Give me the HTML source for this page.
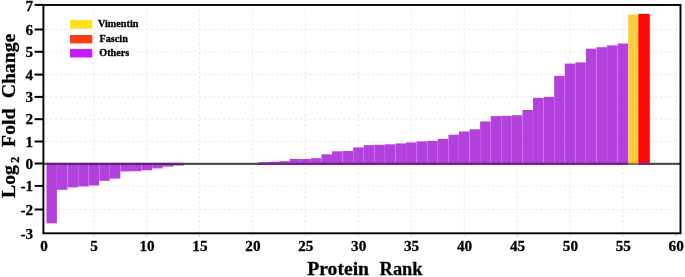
<!DOCTYPE html>
<html><head><meta charset="utf-8"><title>Protein Rank</title>
<style>html,body{margin:0;padding:0;background:#fff;overflow:hidden}body{width:685px;height:277px;position:relative}</style></head>
<body>
<svg width="685" height="277" viewBox="0 0 685 277" style="position:absolute;left:0;top:0">
<rect width="685" height="277" fill="#fff"/>
<g stroke="#e6e6e6" stroke-width="1" stroke-dasharray="2.2,2.6" fill="none">
<line x1="45.4" y1="29.5" x2="679.5" y2="29.5"/>
<line x1="45.4" y1="51.8" x2="679.5" y2="51.8"/>
<line x1="45.4" y1="74.6" x2="679.5" y2="74.6"/>
<line x1="45.4" y1="96.9" x2="679.5" y2="96.9"/>
<line x1="45.4" y1="119.2" x2="679.5" y2="119.2"/>
<line x1="45.4" y1="141.5" x2="679.5" y2="141.5"/>
<line x1="45.4" y1="185.9" x2="679.5" y2="185.9"/>
<line x1="45.4" y1="209.5" x2="679.5" y2="209.5"/>
<line x1="93.7" y1="9" x2="93.7" y2="236.3"/>
<line x1="146.6" y1="9" x2="146.6" y2="236.3"/>
<line x1="199.5" y1="9" x2="199.5" y2="236.3"/>
<line x1="252.5" y1="9" x2="252.5" y2="236.3"/>
<line x1="305.4" y1="9" x2="305.4" y2="236.3"/>
<line x1="358.3" y1="9" x2="358.3" y2="236.3"/>
<line x1="411.2" y1="9" x2="411.2" y2="236.3"/>
<line x1="464.2" y1="9" x2="464.2" y2="236.3"/>
<line x1="517.1" y1="9" x2="517.1" y2="236.3"/>
<line x1="570.0" y1="9" x2="570.0" y2="236.3"/>
<line x1="622.9" y1="9" x2="622.9" y2="236.3"/>
<line x1="675.9" y1="9" x2="675.9" y2="236.3"/>
</g>
<g>
<rect x="46.45" y="162.8" width="10.46" height="60.5" fill="#b440de"/>
<rect x="57.03" y="162.8" width="10.46" height="27.0" fill="#b440de"/>
<rect x="67.61" y="162.8" width="10.46" height="24.6" fill="#b440de"/>
<rect x="78.18" y="162.8" width="10.46" height="23.7" fill="#b440de"/>
<rect x="88.76" y="162.8" width="10.46" height="22.7" fill="#b440de"/>
<rect x="99.34" y="162.8" width="10.46" height="18.0" fill="#b440de"/>
<rect x="109.92" y="162.8" width="10.46" height="15.8" fill="#b440de"/>
<rect x="120.50" y="162.8" width="10.46" height="8.6" fill="#b440de"/>
<rect x="131.07" y="162.8" width="10.46" height="8.4" fill="#b440de"/>
<rect x="141.65" y="162.8" width="10.46" height="7.5" fill="#b440de"/>
<rect x="152.23" y="162.8" width="10.46" height="5.6" fill="#b440de"/>
<rect x="162.81" y="162.8" width="10.46" height="3.8" fill="#b440de"/>
<rect x="173.38" y="162.8" width="10.46" height="2.8" fill="#b440de"/>
<rect x="258.01" y="162.2" width="10.46" height="2.7" fill="#b440de"/>
<rect x="268.59" y="161.8" width="10.46" height="3.1" fill="#b440de"/>
<rect x="279.17" y="161.2" width="10.46" height="3.7" fill="#b440de"/>
<rect x="289.74" y="158.9" width="10.46" height="6.0" fill="#b440de"/>
<rect x="300.32" y="159.0" width="10.46" height="5.9" fill="#b440de"/>
<rect x="310.90" y="158.2" width="10.46" height="6.7" fill="#b440de"/>
<rect x="321.48" y="154.3" width="10.46" height="10.6" fill="#b440de"/>
<rect x="332.06" y="151.3" width="10.46" height="13.6" fill="#b440de"/>
<rect x="342.63" y="150.9" width="10.46" height="14.0" fill="#b440de"/>
<rect x="353.21" y="147.4" width="10.46" height="17.5" fill="#b440de"/>
<rect x="363.79" y="145.1" width="10.46" height="19.8" fill="#b440de"/>
<rect x="374.37" y="144.8" width="10.46" height="20.1" fill="#b440de"/>
<rect x="384.94" y="144.3" width="10.46" height="20.6" fill="#b440de"/>
<rect x="395.52" y="143.4" width="10.46" height="21.5" fill="#b440de"/>
<rect x="406.10" y="142.4" width="10.46" height="22.5" fill="#b440de"/>
<rect x="416.68" y="141.4" width="10.46" height="23.5" fill="#b440de"/>
<rect x="427.26" y="140.8" width="10.46" height="24.1" fill="#b440de"/>
<rect x="437.83" y="138.9" width="10.46" height="26.0" fill="#b440de"/>
<rect x="448.41" y="134.7" width="10.46" height="30.2" fill="#b440de"/>
<rect x="458.99" y="131.5" width="10.46" height="33.4" fill="#b440de"/>
<rect x="469.57" y="129.3" width="10.46" height="35.6" fill="#b440de"/>
<rect x="480.15" y="121.4" width="10.46" height="43.5" fill="#b440de"/>
<rect x="490.73" y="116.1" width="10.46" height="48.8" fill="#b440de"/>
<rect x="501.30" y="115.8" width="10.46" height="49.1" fill="#b440de"/>
<rect x="511.88" y="115.2" width="10.46" height="49.7" fill="#b440de"/>
<rect x="522.46" y="110" width="10.46" height="54.9" fill="#b440de"/>
<rect x="533.04" y="97.8" width="10.46" height="67.1" fill="#b440de"/>
<rect x="543.61" y="96.9" width="10.46" height="68.0" fill="#b440de"/>
<rect x="554.19" y="75.9" width="10.46" height="89.0" fill="#b440de"/>
<rect x="564.77" y="63.6" width="10.46" height="101.3" fill="#b440de"/>
<rect x="575.35" y="62.4" width="10.46" height="102.5" fill="#b440de"/>
<rect x="585.93" y="48.7" width="10.46" height="116.2" fill="#b440de"/>
<rect x="596.50" y="47.2" width="10.46" height="117.7" fill="#b440de"/>
<rect x="607.08" y="45.4" width="10.46" height="119.5" fill="#b440de"/>
<rect x="617.66" y="43.5" width="10.46" height="121.4" fill="#b440de"/>
<rect x="628.20" y="14.6" width="10.10" height="150.3" fill="#ffcc3e"/>
<rect x="638.30" y="13.9" width="11.50" height="151.0" fill="#ff0505"/>
</g>
<rect x="43.4" y="162.8" width="637.1" height="2.1" fill="#464646"/>
<rect x="46.39" y="163.0" width="137.51" height="1.9" fill="#5e2276"/>
<rect x="257.95" y="162.8" width="370.25" height="2.1" fill="#7a1f9a"/>
<rect x="628.2" y="163.10000000000002" width="10.1" height="1.8" fill="#a07c22"/>
<rect x="638.3" y="162.8" width="11.5" height="2.1" fill="#7d1fa3"/>
<rect x="43.4" y="5.0" width="637.1" height="228.3" fill="none" stroke="#000" stroke-width="1.9"/>
<g stroke="#000" stroke-width="2">
<line x1="34.6" y1="4.9" x2="43.4" y2="4.9"/>
<line x1="34.6" y1="29.5" x2="43.4" y2="29.5"/>
<line x1="34.6" y1="51.8" x2="43.4" y2="51.8"/>
<line x1="34.6" y1="74.6" x2="43.4" y2="74.6"/>
<line x1="34.6" y1="96.9" x2="43.4" y2="96.9"/>
<line x1="34.6" y1="119.2" x2="43.4" y2="119.2"/>
<line x1="34.6" y1="141.5" x2="43.4" y2="141.5"/>
<line x1="34.6" y1="163.5" x2="43.4" y2="163.5"/>
<line x1="34.6" y1="185.9" x2="43.4" y2="185.9"/>
<line x1="34.6" y1="209.5" x2="43.4" y2="209.5"/>
</g>
<g stroke="#c4c4c4" stroke-width="1">
<line x1="93.7" y1="234.3" x2="93.7" y2="236.3"/>
<line x1="146.6" y1="234.3" x2="146.6" y2="236.3"/>
<line x1="199.5" y1="234.3" x2="199.5" y2="236.3"/>
<line x1="252.5" y1="234.3" x2="252.5" y2="236.3"/>
<line x1="305.4" y1="234.3" x2="305.4" y2="236.3"/>
<line x1="358.3" y1="234.3" x2="358.3" y2="236.3"/>
<line x1="411.2" y1="234.3" x2="411.2" y2="236.3"/>
<line x1="464.2" y1="234.3" x2="464.2" y2="236.3"/>
<line x1="517.1" y1="234.3" x2="517.1" y2="236.3"/>
<line x1="570.0" y1="234.3" x2="570.0" y2="236.3"/>
<line x1="622.9" y1="234.3" x2="622.9" y2="236.3"/>
<line x1="675.9" y1="234.3" x2="675.9" y2="236.3"/>
</g>
<g font-family="'Liberation Serif', serif" font-weight="bold" fill="#000" stroke="#000" stroke-width="0.3" stroke-linejoin="round">
<g font-size="15.2" text-anchor="end">
<text x="33.1" y="11.3">7</text>
<text x="33.1" y="34.6">6</text>
<text x="33.1" y="56.9">5</text>
<text x="33.1" y="79.7">4</text>
<text x="33.1" y="102.0">3</text>
<text x="33.1" y="124.3">2</text>
<text x="33.1" y="146.6">1</text>
<text x="33.1" y="168.6">0</text>
<text x="33.1" y="191.0">-1</text>
<text x="33.1" y="214.6">-2</text>
<text x="33.1" y="238.6">-3</text>
</g>
<g font-size="15.2" text-anchor="middle">
<text x="44.0" y="251.4">0</text>
<text x="94.1" y="251.4">5</text>
<text x="147.0" y="251.4">10</text>
<text x="199.9" y="251.4">15</text>
<text x="252.9" y="251.4">20</text>
<text x="305.8" y="251.4">25</text>
<text x="358.7" y="251.4">30</text>
<text x="411.6" y="251.4">35</text>
<text x="464.6" y="251.4">40</text>
<text x="517.5" y="251.4">45</text>
<text x="570.4" y="251.4">50</text>
<text x="623.3" y="251.4">55</text>
<text x="676.2" y="251.4">60</text>
</g>
<text x="307.3" y="275.2" font-size="19.6">Protein</text>
<text x="379.6" y="275.2" font-size="19.6" textLength="43" lengthAdjust="spacingAndGlyphs">Rank</text>
<g transform="translate(14.7,0) rotate(-90)" font-size="19.7">
<text x="-197.9" y="0">Log</text>
<text x="-162.8" y="4.4" font-size="12">2</text>
<text x="-146.9" y="0">Fold</text>
<text x="-98.3" y="0">Change</text>
</g>
<rect x="70" y="20" width="22.3" height="8.6" fill="#ffe019" stroke="none"/>
<rect x="70" y="35" width="22.3" height="8.4" fill="#ff3a0e" stroke="none"/>
<rect x="70" y="49" width="22.3" height="8.5" fill="#c71cff" stroke="none"/>
<g font-size="10.2">
<text x="98.0" y="26.8">Vimentin</text>
<text x="99.5" y="42.3">Fascin</text>
<text x="99.3" y="56.1">Others</text>
</g>
</g>
</svg>
</body></html>
